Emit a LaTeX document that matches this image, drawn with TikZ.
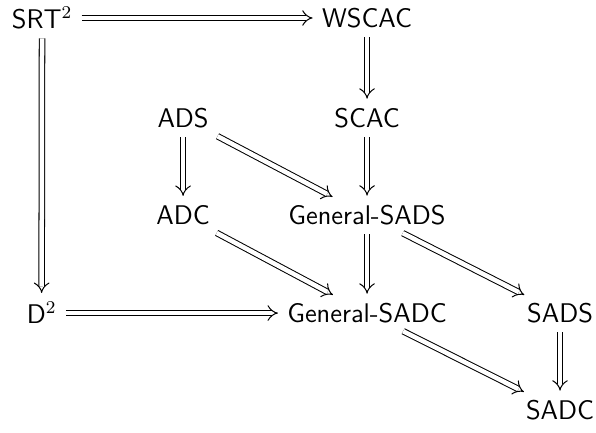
\documentclass[tikz,border=0pt]{standalone}
\usetikzlibrary{arrows.meta}
\begin{document}
\begin{tikzpicture}[x=1pt,y=1pt,
  lbl/.style={font=\fontsize{12}{14.5}\selectfont\sffamily, inner sep=3pt},
  imp/.style={double, double distance=2pt, line width=0.45pt, -{Implies}, shorten >=1pt, shorten <=1pt}]
\useasboundingbox (0,0) rectangle (265,-192.5);
\node[lbl] (srt) at (18.7,-8.0) {SRT$^2$};
\node[lbl] (wscac) at (163.2,-8.0) {WSCAC};
\node[lbl] (ads) at (81.4,-52.5) {ADS};
\node[lbl] (scac) at (163.2,-52.5) {SCAC};
\node[lbl] (adc) at (81.4,-95.6) {ADC};
\node[lbl] (gsads) at (163.2,-95.6) {General-SADS};
\node[lbl] (d2) at (18.5,-139.2) {D$^2$};
\node[lbl] (gsadc) at (163.2,-139.2) {General-SADC};
\node[lbl] (sads) at (249.0,-139.2) {SADS};
\node[lbl] (sadc) at (249.0,-182.3) {SADC};
\draw[imp] (srt) -- (wscac);
\draw[imp] (srt) -- (d2);
\draw[imp] (wscac) -- (scac);
\draw[imp] (scac) -- (gsads);
\draw[imp] (ads) -- (adc);
\draw[imp] (ads) -- (gsads);
\draw[imp] (adc) -- (gsadc);
\draw[imp] (gsads) -- (gsadc);
\draw[imp] (gsads) -- (sads);
\draw[imp] (d2) -- (gsadc);
\draw[imp] (gsadc) -- (sadc);
\draw[imp] (sads) -- (sadc);
\end{tikzpicture}
\end{document}
